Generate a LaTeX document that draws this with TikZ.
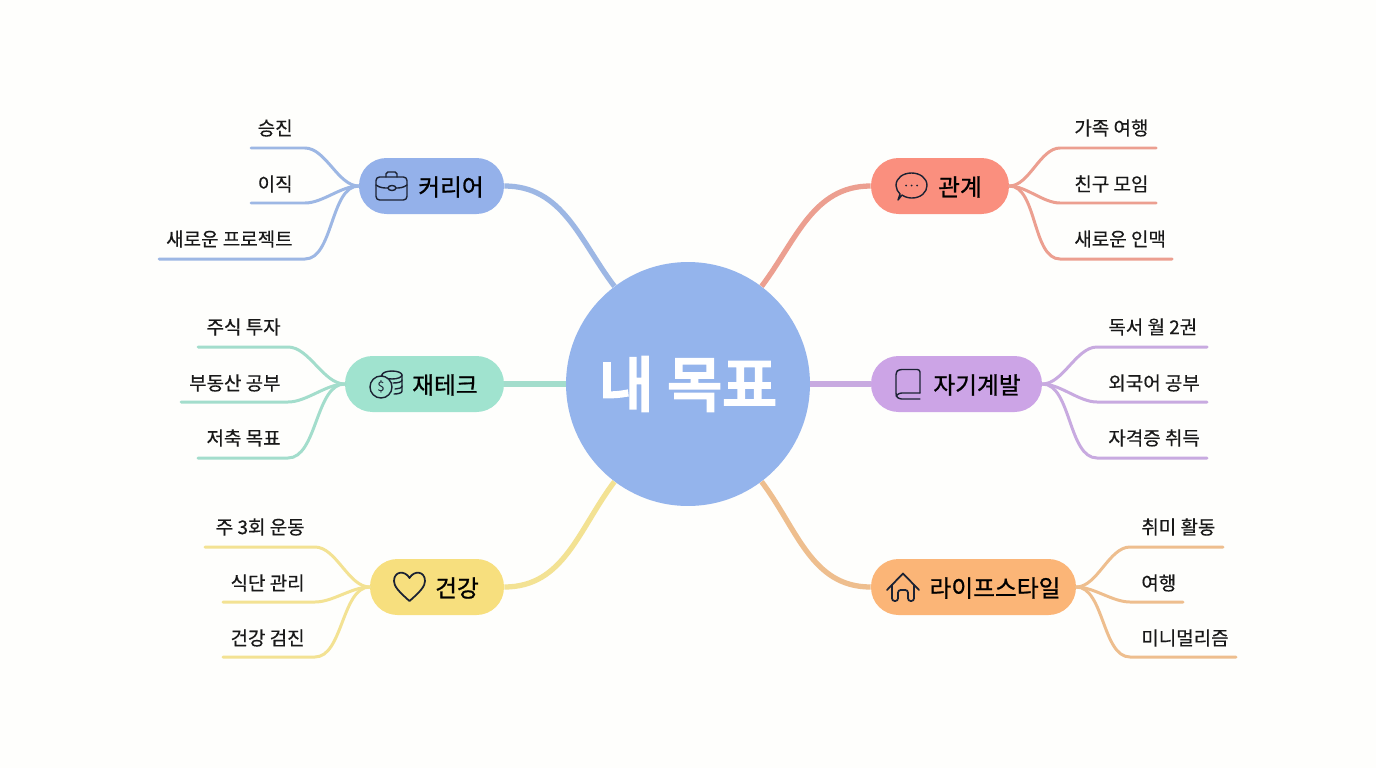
\documentclass[tikz,border=0pt]{standalone}
\usepackage{fontspec}
\setmainfont{Noto Sans CJK KR}
\newfontfamily\pillfont{Noto Sans CJK KR}[FakeBold=0.9]
\newfontfamily\leaffont{Noto Sans CJK KR}[FakeBold=0.4]
\newfontfamily\goalfont{Noto Sans CJK KR}[FakeBold=4.5]
\usepackage{tikz}
\usetikzlibrary{positioning, calc}

\definecolor{paper}{HTML}{FEFEFC}
\definecolor{inkdark}{HTML}{1B2233}
\definecolor{goalfill}{HTML}{94B4EC}
\definecolor{careerfill}{HTML}{94B1EA}
\definecolor{careerline}{HTML}{9DB7E4}
\definecolor{moneyfill}{HTML}{A0E3CF}
\definecolor{moneyline}{HTML}{A3DDCC}
\definecolor{healthfill}{HTML}{F7DF7E}
\definecolor{healthline}{HTML}{F3E293}
\definecolor{peoplefill}{HTML}{FA8F7E}
\definecolor{peopleline}{HTML}{EC9F90}
\definecolor{growthfill}{HTML}{CCA4E6}
\definecolor{growthline}{HTML}{C8AAE0}
\definecolor{lifefill}{HTML}{FBB577}
\definecolor{lifeline}{HTML}{EEBE8E}

\tikzset{
  pill/.style={rectangle, rounded corners=0.55cm, minimum height=1.12cm, inner sep=0pt},
  pilltext/.style={inner sep=0pt, text=black, font=\pillfont\fontsize{13.5}{16}\selectfont},
  leaftext/.style={inner sep=0pt, text=black!90, font=\leaffont\fontsize{10.8}{13}\selectfont},
  trunk/.style={line width=3pt},
  branch/.style={line width=1.7pt, line cap=round, looseness=0.8},
  icon/.style={draw=inkdark, line width=0.8pt, line join=round, line cap=round}
}

\begin{document}
\begin{tikzpicture}[x=0.02cm, y=-0.02cm]
  \useasboundingbox (0,0) rectangle (1376,768);
  \fill[paper] (0,0) rectangle (1376,768);

  % Center
  \node[circle, fill=goalfill, minimum size=4.88cm, inner sep=0pt, text=white,
        font=\goalfont\fontsize{34}{40}\selectfont] (goal) at (688,384) {내 목표};

  % Topic pills
  \node[pill, fill=careerfill, minimum width=2.9cm] (career) at (431.5,186) {};
  \node[pill, fill=moneyfill, minimum width=3.18cm] (money) at (424.5,384) {};
  \node[pill, fill=healthfill, minimum width=2.68cm] (health) at (437,587) {};
  \node[pill, fill=peoplefill, minimum width=2.76cm] (people) at (940,186) {};
  \node[pill, fill=growthfill, minimum width=3.42cm] (growth) at (956.5,384) {};
  \node[pill, fill=lifefill, minimum width=4.1cm] (life) at (973.5,587) {};

  \node[pilltext] (careertext) at (451,187) {커리어};
  \node[pilltext] (moneytext) at (445,385) {재테크};
  \node[pilltext] (healthtext) at (457,588) {건강};
  \node[pilltext] (peopletext) at (960,187) {관계};
  \node[pilltext] (growthtext) at (977,385) {자기계발};
  \node[pilltext] (lifetext) at (995,588) {라이프스타일};

  % Trunks
  \draw[trunk, careerline] (career.east) to[out=0, in=127] (goal.127);
  \draw[trunk, moneyline] (money.east) -- (goal.west);
  \draw[trunk, healthline] (health.east) to[out=0, in=233] (goal.233);
  \draw[trunk, peopleline] (people.west) to[out=180, in=53] (goal.53);
  \draw[trunk, growthline] (growth.west) -- (goal.east);
  \draw[trunk, lifeline] (life.west) to[out=180, in=-53] (goal.-53);

  % Career leaves
  \coordinate (careerknee) at (305,186);
  \coordinate (careertipa) at (251,148);
  \coordinate (careertipb) at (251,203);
  \coordinate (careertipc) at (159,259);
  \node[leaftext, anchor=east] (promotion) at (293,128) {승진};
  \node[leaftext, anchor=east] (jobchange) at (293,184) {이직};
  \node[leaftext, anchor=east] (project) at (293,239) {새로운 프로젝트};
  \draw[branch, careerline] (career.west) to[out=180, in=0] (careertipa -| careerknee) -- (careertipa);
  \draw[branch, careerline] (career.west) to[out=180, in=0] (careertipb -| careerknee) -- (careertipb);
  \draw[branch, careerline] (career.west) to[out=180, in=0] (careertipc -| careerknee) -- (careertipc);

  % Money leaves
  \coordinate (moneyknee) at (288,384);
  \coordinate (moneytipa) at (198,347);
  \coordinate (moneytipb) at (181,402);
  \coordinate (moneytipc) at (198,458);
  \node[leaftext, anchor=east] (stocks) at (281,327) {주식 투자};
  \node[leaftext, anchor=east] (realty) at (281,383) {부동산 공부};
  \node[leaftext, anchor=east] (savings) at (281,438) {저축 목표};
  \draw[branch, moneyline] (money.west) to[out=180, in=0] (moneytipa -| moneyknee) -- (moneytipa);
  \draw[branch, moneyline] (money.west) to[out=180, in=0] (moneytipb -| moneyknee) -- (moneytipb);
  \draw[branch, moneyline] (money.west) to[out=180, in=0] (moneytipc -| moneyknee) -- (moneytipc);

  % Health leaves
  \coordinate (healthknee) at (315,587);
  \coordinate (healthtipa) at (205,547);
  \coordinate (healthtipb) at (223,602);
  \coordinate (healthtipc) at (223,657);
  \node[leaftext, anchor=east] (workout) at (305,527) {주 3회 운동};
  \node[leaftext, anchor=east] (diet) at (305,583) {식단 관리};
  \node[leaftext, anchor=east] (checkup) at (305,638) {건강 검진};
  \draw[branch, healthline] (health.west) to[out=180, in=0] (healthtipa -| healthknee) -- (healthtipa);
  \draw[branch, healthline] (health.west) to[out=180, in=0] (healthtipb -| healthknee) -- (healthtipb);
  \draw[branch, healthline] (health.west) to[out=180, in=0] (healthtipc -| healthknee) -- (healthtipc);

  % People leaves
  \coordinate (peopleknee) at (1060,186);
  \coordinate (peopletipa) at (1156,148);
  \coordinate (peopletipb) at (1156,203);
  \coordinate (peopletipc) at (1172,259);
  \node[leaftext, anchor=west] (family) at (1074,128) {가족 여행};
  \node[leaftext, anchor=west] (friends) at (1074,184) {친구 모임};
  \node[leaftext, anchor=west] (network) at (1074,239) {새로운 인맥};
  \draw[branch, peopleline] (people.east) to[out=0, in=180] (peopletipa -| peopleknee) -- (peopletipa);
  \draw[branch, peopleline] (people.east) to[out=0, in=180] (peopletipb -| peopleknee) -- (peopletipb);
  \draw[branch, peopleline] (people.east) to[out=0, in=180] (peopletipc -| peopleknee) -- (peopletipc);

  % Growth leaves
  \coordinate (growthknee) at (1097,384);
  \coordinate (growthtipa) at (1207,347);
  \coordinate (growthtipb) at (1207,402);
  \coordinate (growthtipc) at (1207,458);
  \node[leaftext, anchor=west] (reading) at (1108,327) {독서 월 2권};
  \node[leaftext, anchor=west] (language) at (1108,383) {외국어 공부};
  \node[leaftext, anchor=west] (license) at (1108,438) {자격증 취득};
  \draw[branch, growthline] (growth.east) to[out=0, in=180] (growthtipa -| growthknee) -- (growthtipa);
  \draw[branch, growthline] (growth.east) to[out=0, in=180] (growthtipb -| growthknee) -- (growthtipb);
  \draw[branch, growthline] (growth.east) to[out=0, in=180] (growthtipc -| growthknee) -- (growthtipc);

  % Life leaves
  \coordinate (lifeknee) at (1130,587);
  \coordinate (lifetipa) at (1223,547);
  \coordinate (lifetipb) at (1183,602);
  \coordinate (lifetipc) at (1236,657);
  \node[leaftext, anchor=west] (hobby) at (1141,527) {취미 활동};
  \node[leaftext, anchor=west] (travel) at (1141,583) {여행};
  \node[leaftext, anchor=west] (minimal) at (1141,638) {미니멀리즘};
  \draw[branch, lifeline] (life.east) to[out=0, in=180] (lifetipa -| lifeknee) -- (lifetipa);
  \draw[branch, lifeline] (life.east) to[out=0, in=180] (lifetipb -| lifeknee) -- (lifetipb);
  \draw[branch, lifeline] (life.east) to[out=0, in=180] (lifetipc -| lifeknee) -- (lifetipc);

  % Briefcase
  \draw[icon, rounded corners=2pt] (376,177) rectangle (407,200);
  \draw[icon, rounded corners=1pt] (386,177) -- (386,172) -- (397,172) -- (397,177);
  \draw[icon] (376,185) .. controls (380,188) and (384,188) .. (388,188);
  \draw[icon] (407,185) .. controls (403,188) and (399,188) .. (396,188);
  \draw[icon] (392,188) ellipse (4 and 2.5);

  % Coins
  \draw[icon] (392,375) ellipse (10 and 4);
  \draw[icon] (382,375) -- (382,379);
  \draw[icon] (402,375) -- (402,391) .. controls (402,393) and (398,394) .. (394,394);
  \draw[icon] (402,380) .. controls (402,382) and (398,383) .. (393,383);
  \draw[icon] (402,386) .. controls (402,388) and (398,389) .. (395,389);
  \draw[icon, fill=moneyfill] (381,387) circle (11);
  \node[inner sep=0pt, text=inkdark, font=\fontsize{7.5}{9}\selectfont] (coinsign) at (381,387) {\$};

  % Heart
  \draw[icon, line width=1pt] (409.5,601) .. controls (398,591) and (394,586) .. (394,581)
    .. controls (394,571) and (405,570) .. (409.5,578)
    .. controls (414,570) and (425,571) .. (425,581)
    .. controls (425,586) and (421,591) .. (409.5,601) -- cycle;

  % Speech bubble
  \draw[icon] (902,195) .. controls (906,198) and (911,198) .. (912,198)
    .. controls (921,198) and (927,192) .. (927,185.5)
    .. controls (927,178) and (920,173) .. (911.5,173)
    .. controls (903,173) and (896,178) .. (896,185.5)
    .. controls (896,189) and (898,192) .. (900,194)
    -- (898,200) -- (902,195) -- cycle;
  \fill[inkdark] (906,185.5) circle (1) (911.5,185.5) circle (1) (917,185.5) circle (1);

  % Book
  \draw[icon, rounded corners=1.5pt] (920,393) -- (920,369.5) -- (899,369.5) -- (896,372) -- (896,396) -- (899,399) -- (920,399);
  \draw[icon, rounded corners=1.5pt] (920,393) -- (899,393) -- (896,396);

  % House
  \draw[icon, line width=1pt] (887,590) -- (903,573.5) -- (919,590);
  \draw[icon, line width=1pt, rounded corners=1.5pt] (892,585) -- (892,601) -- (898,601) -- (898,590) -- (908,590) -- (908,601) -- (914,601) -- (914,585);
\end{tikzpicture}
\end{document}
